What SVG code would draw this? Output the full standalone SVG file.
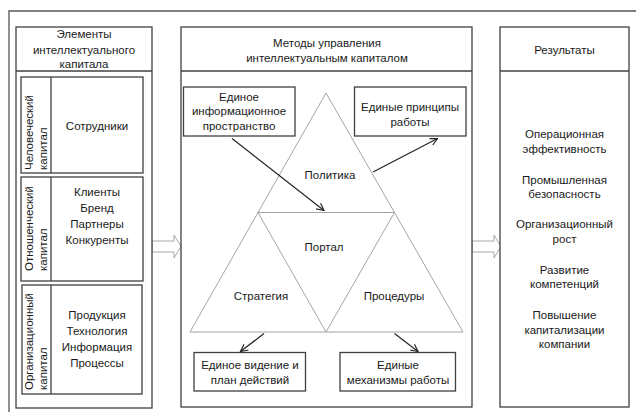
<svg xmlns="http://www.w3.org/2000/svg" width="636" height="412" viewBox="0 0 636 412">
<defs>
<style>
.frame{fill:none;stroke:#555;stroke-width:1.3}
.box{fill:#fff;stroke:#404040;stroke-width:1.3}
.tri{fill:none;stroke:#9a9a9a;stroke-width:0.9}
.blk{fill:#fff;stroke:#a8a8a8;stroke-width:1}
.arr{fill:none;stroke:#222;stroke-width:1.2;marker-end:url(#ah)}
text{font-family:"Liberation Sans",Arial,sans-serif;font-size:11.5px;fill:#1a1a1a;text-anchor:middle}
.v{text-anchor:start}
</style>
<marker id="ah" viewBox="0 0 10 10" refX="9" refY="5" markerWidth="9" markerHeight="9" markerUnits="userSpaceOnUse" orient="auto">
<path d="M1,1 L9,5 L1,9" fill="none" stroke="#222" stroke-width="1.3"/>
</marker>
</defs>
<rect width="636" height="412" fill="#fff"/>
<path class="frame" d="M9,412 V11 H636"/>

<g id="block-arrows">
<polygon class="blk" points="152,241 174,241 174,235 181,246.5 174,258 174,252 152,252"/>
<polygon class="blk" points="472,241 494,241 494,235 501,246.5 494,258 494,252 472,252"/>
</g>

<g id="elements">
<rect class="box" x="16" y="27" width="136" height="381"/>
<line class="box" x1="16" y1="71" x2="152" y2="71"/>
<text x="84" y="38">Элементы</text>
<text x="84" y="54">интеллектуального</text>
<text x="84" y="69" dy="-1">капитала</text>
</g>
<g id="human">
<rect class="box" x="21" y="77" width="122" height="96"/>
<line class="box" x1="51" y1="77" x2="51" y2="173"/>
<text class="v" transform="translate(33,170) rotate(-90)">Человеческий</text>
<text class="v" transform="translate(47,170) rotate(-90)">капитал</text>
<text x="97" y="130">Сотрудники</text>
</g>
<g id="relational">
<rect class="box" x="21" y="177" width="122" height="104"/>
<line class="box" x1="51" y1="177" x2="51" y2="281"/>
<text class="v" transform="translate(33,271) rotate(-90)">Отношенческий</text>
<text class="v" transform="translate(47,271) rotate(-90)">капитал</text>
<text x="97" y="196">Клиенты</text>
<text x="97" y="212">Бренд</text>
<text x="97" y="228">Партнеры</text>
<text x="97" y="244">Конкуренты</text>
</g>
<g id="organizational">
<rect class="box" x="22" y="285" width="120" height="109"/>
<line class="box" x1="51" y1="285" x2="51" y2="394"/>
<text class="v" transform="translate(33,390) rotate(-90)">Организационный</text>
<text class="v" transform="translate(47,390) rotate(-90)">капитал</text>
<text x="97" y="319">Продукция</text>
<text x="97" y="335">Технология</text>
<text x="97" y="351">Информация</text>
<text x="97" y="367">Процессы</text>
</g>

<g id="methods">
<rect class="box" x="181" y="27" width="291" height="380"/>
<line class="box" x1="181" y1="71" x2="472" y2="71"/>
<text x="327" y="47">Методы управления</text>
<text x="327" y="62">интеллектуальным капиталом</text>
</g>

<g id="triangle">
<polygon class="tri" points="326,93 190,332 463,332"/>
<polygon class="tri" points="258,212.5 394.5,212.5 326,332"/>
<text x="330" y="179">Политика</text>
<text x="324" y="251">Портал</text>
<text x="261" y="300">Стратегия</text>
<text x="394" y="300">Процедуры</text>
</g>

<g id="info-space">
<rect class="box" x="183.5" y="87" width="111.5" height="49"/>
<text x="239" y="101">Единое</text>
<text x="239" y="115">информационное</text>
<text x="239" y="130">пространство</text>
</g>
<g id="principles">
<rect class="box" x="354.5" y="87" width="111.5" height="49"/>
<text x="410" y="111">Единые принципы</text>
<text x="410" y="126">работы</text>
</g>
<g id="vision">
<rect class="box" x="194" y="352.5" width="111.5" height="38.5"/>
<text x="250" y="369">Единое видение и</text>
<text x="250" y="384">план действий</text>
</g>
<g id="mechanisms">
<rect class="box" x="340" y="352.5" width="115.5" height="38.5"/>
<text x="398" y="369">Единые</text>
<text x="398" y="384">механизмы работы</text>
</g>

<g id="connectors">
<line class="arr" x1="232" y1="138.5" x2="324" y2="210.5"/>
<line class="arr" x1="373" y1="172" x2="437.5" y2="138.5"/>
<line class="arr" x1="264" y1="333.5" x2="240.5" y2="351.5"/>
<line class="arr" x1="394.5" y1="333.5" x2="418" y2="351.5"/>
</g>

<g id="results">
<rect class="box" x="500" y="27" width="129" height="380"/>
<line class="box" x1="500" y1="71" x2="629" y2="71"/>
<text x="564.5" y="54">Результаты</text>
<text x="564.5" y="138">Операционная</text>
<text x="564.5" y="153">эффективность</text>
<text x="564.5" y="184">Промышленная</text>
<text x="564.5" y="198">безопасность</text>
<text x="564.5" y="228">Организационный</text>
<text x="564.5" y="243">рост</text>
<text x="564.5" y="274">Развитие</text>
<text x="564.5" y="288">компетенций</text>
<text x="564.5" y="319">Повышение</text>
<text x="564.5" y="334">капитализации</text>
<text x="564.5" y="348">компании</text>
</g>
</svg>
